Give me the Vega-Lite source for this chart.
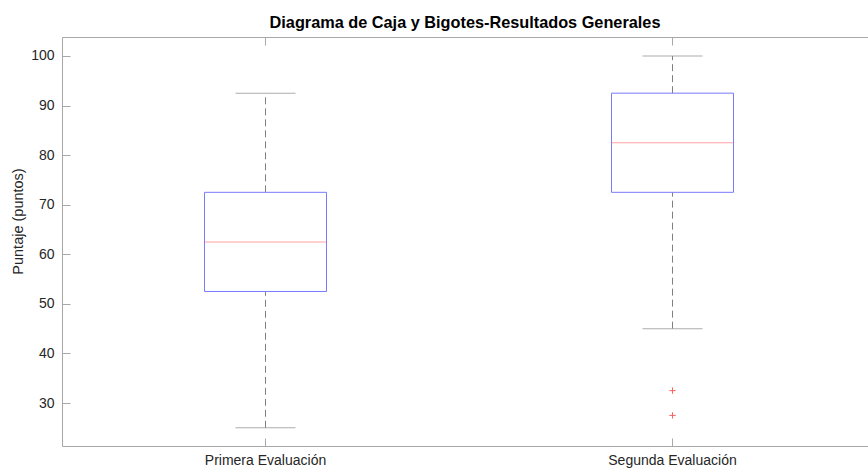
{
  "$schema": "https://vega.github.io/schema/vega-lite/v6.json",
  "width": 806,
  "height": 409,
  "autosize": {"type": "none"},
  "padding": {"left": 62, "top": 37, "right": 0, "bottom": 22},
  "background": "white",
  "title": {
    "text": "Diagrama de Caja y Bigotes-Resultados Generales",
    "font": "Liberation Sans",
    "fontSize": 16.3,
    "fontWeight": "bold",
    "color": "#000000",
    "anchor": "middle",
    "offset": 5
  },
  "config": {
    "view": {"stroke": "#a8a8a8", "strokeWidth": 1},
    "axis": {
      "labelFont": "Liberation Sans",
      "titleFont": "Liberation Sans",
      "labelColor": "#262626",
      "titleColor": "#262626",
      "domainColor": "#a8a8a8",
      "tickColor": "#a8a8a8",
      "grid": false
    }
  },
  "resolve": {"axis": {"x": "independent"}},
  "data": {
    "values": [
      {"grupo": "Primera Evaluación", "min": 25, "q1": 52.5, "mediana": 62.5, "q3": 72.5, "max": 92.5},
      {"grupo": "Segunda Evaluación", "min": 45, "q1": 72.5, "mediana": 82.5, "q3": 92.5, "max": 100}
    ]
  },
  "layer": [
    {
      "mark": {"type": "rule", "strokeDash": [7, 4], "color": "#808080", "strokeWidth": 1},
      "encoding": {
        "x": {
          "field": "grupo", "type": "nominal",
          "scale": {"type": "band", "range": [0, 814], "paddingInner": 0, "paddingOuter": 0},
          "axis": {"title": null, "labelAngle": 0, "labelFontSize": 14, "tickSize": 8, "offset": -8, "labelPadding": 7, "domain": false}
        },
        "y": {
          "field": "q3", "type": "quantitative",
          "scale": {"domain": [21.33, 103.83], "nice": false, "zero": false},
          "axis": {"title": "Puntaje  (puntos)", "titleFontSize": 14.5, "titleFontWeight": "normal", "titleBaseline": "middle", "titleX": -52, "titleY": 184, "labelFontSize": 14, "values": [30, 40, 50, 60, 70, 80, 90, 100], "tickSize": 8, "offset": -8, "labelPadding": 8, "domain": false}
        },
        "y2": {"field": "max"}
      }
    },
    {
      "mark": {"type": "rule", "strokeDash": [7, 4], "color": "#808080", "strokeWidth": 1},
      "encoding": {
        "x": {"field": "grupo", "type": "nominal", "axis": null},
        "y": {"field": "min", "type": "quantitative"},
        "y2": {"field": "q1"}
      }
    },
    {
      "mark": {"type": "tick", "orient": "horizontal", "size": 60, "thickness": 1, "color": "#8a8a8a"},
      "encoding": {
        "x": {"field": "grupo", "type": "nominal", "axis": {"orient": "top", "title": null, "labels": false, "tickSize": 8, "offset": -8, "domain": false}},
        "y": {"field": "max", "type": "quantitative"}
      }
    },
    {
      "mark": {"type": "tick", "orient": "horizontal", "size": 60, "thickness": 1, "color": "#8a8a8a"},
      "encoding": {
        "x": {"field": "grupo", "type": "nominal", "axis": null},
        "y": {"field": "min", "type": "quantitative"}
      }
    },
    {
      "mark": {"type": "bar", "width": 122, "fill": "white", "fillOpacity": 0, "stroke": "#7a7aff", "strokeWidth": 1},
      "encoding": {
        "x": {"field": "grupo", "type": "nominal", "axis": null},
        "y": {"field": "q1", "type": "quantitative"},
        "y2": {"field": "q3"}
      }
    },
    {
      "mark": {"type": "tick", "orient": "horizontal", "size": 122, "thickness": 1, "color": "#ff7a7a"},
      "encoding": {
        "x": {"field": "grupo", "type": "nominal", "axis": null},
        "y": {"field": "mediana", "type": "quantitative"}
      }
    },
    {
      "data": {
        "values": [
          {"grupo": "Segunda Evaluación", "valor": 32.5},
          {"grupo": "Segunda Evaluación", "valor": 27.5}
        ]
      },
      "mark": {"type": "point", "shape": "M-1,0H1M0,-1V1", "size": 40, "stroke": "#ff6060", "strokeWidth": 1, "filled": false, "opacity": 1},
      "encoding": {
        "x": {"field": "grupo", "type": "nominal", "axis": null},
        "y": {"field": "valor", "type": "quantitative"}
      }
    }
  ]
}
